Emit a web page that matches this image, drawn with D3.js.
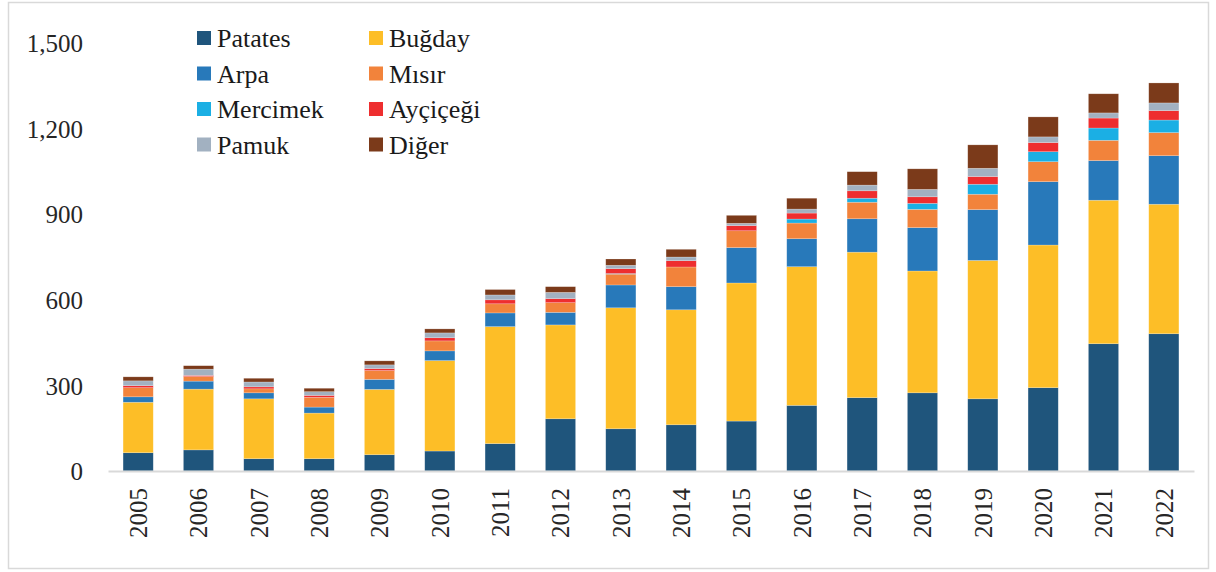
<!DOCTYPE html>
<html lang="tr">
<head>
<meta charset="utf-8">
<title>Ürün bazında üretim</title>
<script src="https://cdn.jsdelivr.net/npm/d3@7"></script>
<style>
  body { margin: 0; background: #fff; }
  svg text { font-family: "Liberation Serif", "Times New Roman", serif; fill: #262626; }
  .tick text { font-size: 25px; }
  .legend text { font-size: 26px; fill: #1a1a1a; }
</style>
</head>
<body>
<script>
var years = ["2005","2006","2007","2008","2009","2010","2011","2012","2013",
             "2014","2015","2016","2017","2018","2019","2020","2021","2022"];
var series = ["Patates","Buğday","Arpa","Mısır","Mercimek","Ayçiçeği","Pamuk","Diğer"];
var colors = ["#1f557c","#fdbe27","#2879ba","#f2833b","#1bafe4","#ee2e2f","#a2b1c1","#7b3a1a"];

// values per series, one per year
var patates  = [64, 74, 43, 43, 57, 70, 96, 183, 148, 162, 175, 230, 257, 274, 253, 292, 446, 481];
var bugday   = [177, 213, 210, 160, 229, 317, 410, 329, 424, 403, 484, 486, 510, 427, 485, 500, 503, 454];
var arpa     = [19, 28, 21, 21, 35, 34, 48, 44, 80, 81, 124, 98, 117, 152, 178, 222, 139, 170];
var misir    = [32, 16, 14, 34, 31, 35, 32, 34, 38, 69, 59, 55, 58, 64, 54, 70, 71, 81];
var mercimek = [0, 0, 0, 0, 0, 0, 0, 0, 2, 0, 0, 14, 14, 21, 35, 35, 43, 44];
var aycicegi = [7, 4, 7, 7, 7, 11, 14, 14, 17, 22, 18, 21, 26, 23, 27, 32, 35, 33];
var pamuk    = [17, 22, 17, 13, 13, 17, 17, 22, 12, 13, 8, 14, 20, 26, 29, 20, 18, 27];
var diger    = [14, 12, 13, 12, 14, 14, 19, 20, 22, 27, 28, 38, 47, 72, 82, 70, 67, 70];
var yTicks = [0, 300, 600, 900, 1200, 1500];

var columns = [patates, bugday, arpa, misir, mercimek, aycicegi, pamuk, diger];
var table = years.map(function(y, i) {
  var row = { year: y };
  series.forEach(function(s, j) { row[s] = columns[j][i]; });
  return row;
});

var w = 1216, h = 572;
var serif = '"Liberation Serif", "Times New Roman", serif';
var svg = d3.select("body").append("svg").attr("width", w).attr("height", h);

// outer frame
svg.append("rect")
   .attr("x", 8.5).attr("y", 2.5)
   .attr("width", 1200).attr("height", 566)
   .attr("fill", "none").attr("stroke", "#d9d9d9").attr("stroke-width", 1.5);

var xScale = d3.scaleBand().domain(years).range([108, 1194]).paddingInner(0.5).paddingOuter(0.25);
var yScale = d3.scaleLinear().domain([0, 1500]).range([471, 43]);
var color = d3.scaleOrdinal().domain(series).range(colors);

var stacked = d3.stack().keys(series)(table);

svg.append("g")
   .selectAll("g")
   .data(stacked)
   .enter()
   .append("g")
   .attr("fill", function(d) { return color(d.key); })
   .selectAll("rect")
   .data(function(d) { return d; })
   .enter()
   .append("rect")
   .attr("x", function(d) { return xScale(d.data.year); })
   .attr("width", xScale.bandwidth())
   .attr("y", function(d) { return yScale(d[1]); })
   .attr("height", function(d) { return yScale(d[0]) - yScale(d[1]); })
   .attr("stroke", "rgba(255,255,255,0.35)")
   .attr("stroke-width", 0.6);

// y axis, labels only
var yAxis = d3.axisLeft(yScale).tickValues(yTicks).tickSize(0).tickPadding(0)
              .tickFormat(d3.format(","));
svg.append("g")
   .attr("transform", "translate(83,0)")
   .call(yAxis)
   .attr("font-family", serif)
   .call(function(g) { g.select(".domain").remove(); })
   .selectAll("text")
   .attr("text-anchor", "end")
   .attr("dy", "0.35em");

// x axis
var xAxis = d3.axisBottom(xScale).tickSize(0).tickPadding(0);
var gx = svg.append("g")
   .attr("transform", "translate(0,471)")
   .call(xAxis)
   .attr("font-family", serif);
gx.select(".domain").attr("stroke", "#d9d9d9").attr("stroke-width", 2);
gx.selectAll("text")
  .attr("transform", "rotate(-90)")
  .attr("text-anchor", "end")
  .attr("x", -17)
  .attr("y", 0)
  .attr("dy", "0.35em");

// legend, two columns
var legend = svg.append("g").attr("class", "legend")
   .selectAll("g")
   .data(series)
   .enter()
   .append("g")
   .attr("transform", function(d, i) {
     var col = i % 2, row = Math.floor(i / 2);
     return "translate(" + (197 + col * 172) + "," + (38 + row * 35.5) + ")";
   });
legend.append("rect")
   .attr("x", 0).attr("y", -7).attr("width", 14).attr("height", 14)
   .attr("fill", function(d) { return color(d); });
legend.append("text")
   .attr("x", 20).attr("y", 0).attr("dy", "0.35em")
   .style("font-family", serif)
   .text(function(d) { return d; });
</script>
</body>
</html>
